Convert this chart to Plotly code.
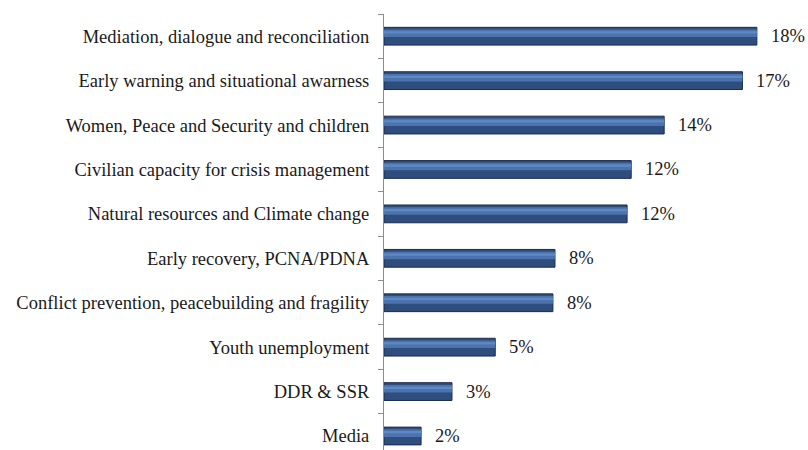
import plotly.graph_objects as go

categories = [
    "Media",
    "DDR & SSR",
    "Youth unemployment",
    "Conflict prevention, peacebuilding and fragility",
    "Early recovery, PCNA/PDNA",
    "Natural resources and Climate change",
    "Civilian capacity for crisis management",
    "Women, Peace and Security and children",
    "Early warning and situational awarness",
    "Mediation, dialogue and reconciliation",
]
values = [1.8, 3.3, 5.4, 8.2, 8.3, 11.8, 12.0, 13.6, 17.4, 18.1]
labels = ["2%", "3%", "5%", "8%", "8%", "12%", "12%", "14%", "17%", "18%"]

FONT = "Times New Roman, Liberation Serif, serif"
FS = 18.5

fig = go.Figure()
fig.add_trace(go.Bar(
    y=categories, x=values, orientation="h", width=0.40,
    marker=dict(color="#2F4D7D", line=dict(color="#1B2C4C", width=1)),
    hoverinfo="skip", showlegend=False,
))
fig.add_trace(go.Bar(
    y=categories, x=values, orientation="h", width=0.17, offset=-0.02,
    marker=dict(color="#4B73AD", line=dict(width=0)),
    hoverinfo="skip", showlegend=False,
))
fig.add_trace(go.Bar(
    y=categories, x=values, orientation="h", width=0.05, offset=0.06,
    marker=dict(color="#6089C3", line=dict(width=0)),
    hoverinfo="skip", showlegend=False,
))

for c, v, t in zip(categories, values, labels):
    fig.add_annotation(x=v, y=c, text=t, showarrow=False, xanchor="left",
                       xshift=12, font=dict(family=FONT, size=FS, color="#1a1a1a"))

fig.update_layout(
    width=808, height=450,
    margin=dict(l=384, r=12, t=14, b=0),
    paper_bgcolor="white", plot_bgcolor="white",
    barmode="overlay",
    font=dict(family=FONT, size=FS, color="#1a1a1a"),
    xaxis=dict(range=[0, 20], visible=False, fixedrange=True),
    yaxis=dict(
        type="category", categoryorder="array", categoryarray=categories,
        range=[-0.315, 9.5],
        showline=True, linecolor="#8c8c8c", linewidth=1,
        ticks="outside", tickson="boundaries", ticklen=5, tickcolor="#8c8c8c",
        showgrid=False, zeroline=False,
        tickfont=dict(family=FONT, size=FS, color="#1a1a1a"),
        ticklabelstandoff=10,
    ),
)

fig.write_html("out.html")
